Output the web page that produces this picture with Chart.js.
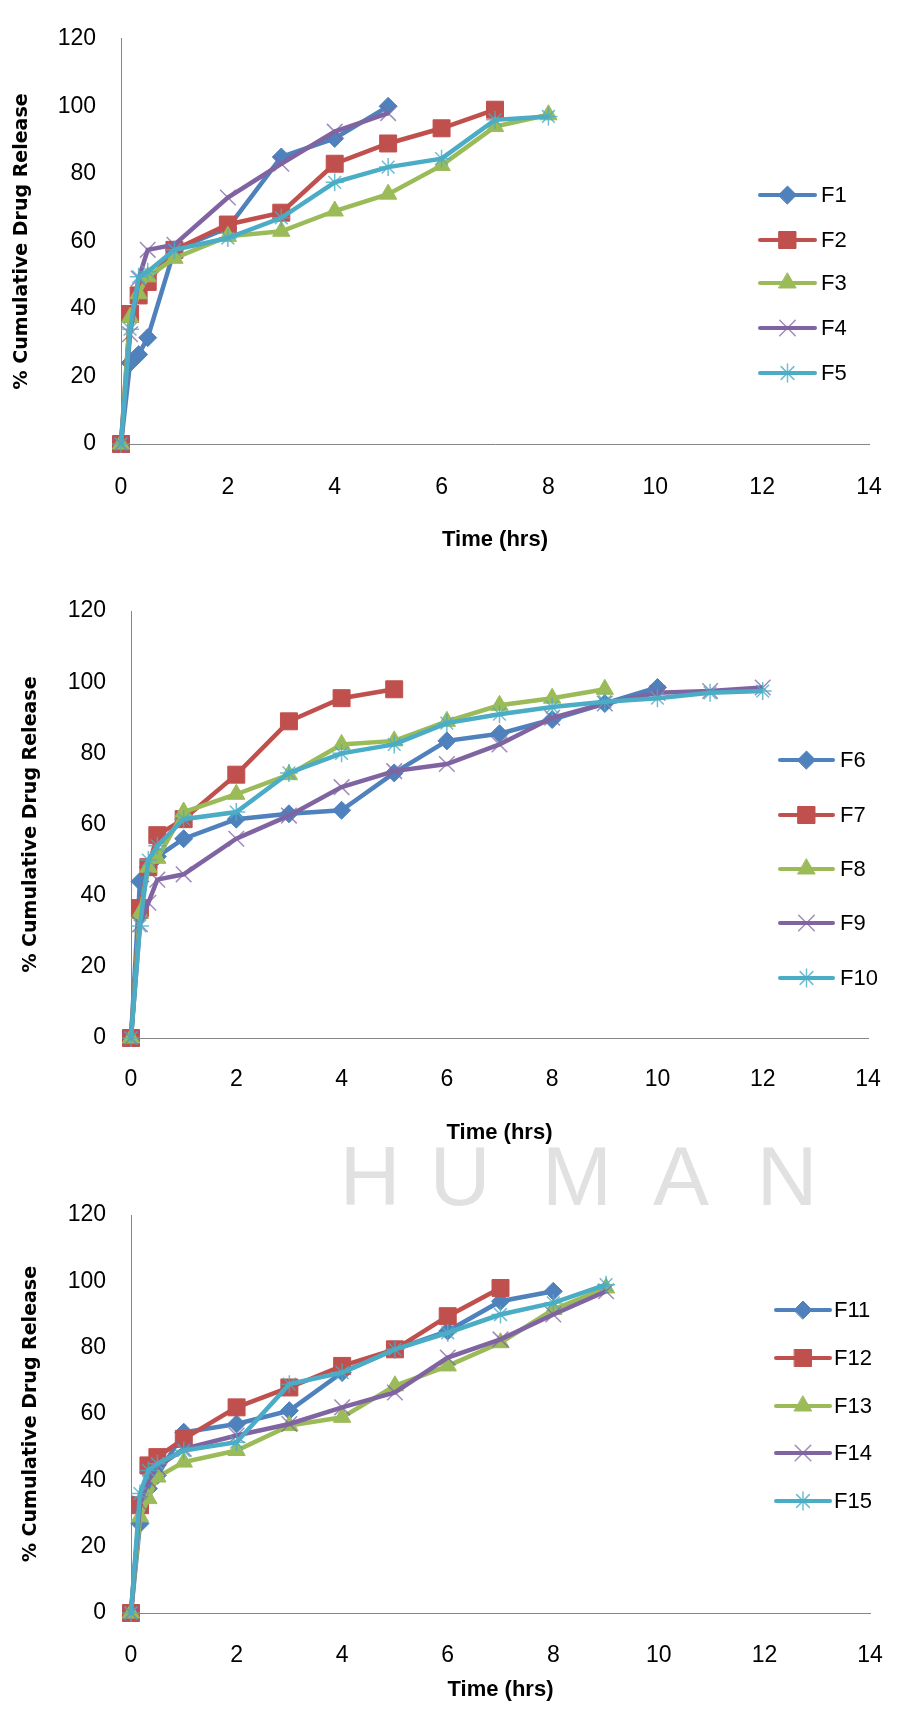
<!DOCTYPE html>
<html>
<head>
<meta charset="utf-8">
<script src="https://cdn.jsdelivr.net/npm/chart.js@4.4.1/dist/chart.umd.min.js"></script>
<style>
html,body{margin:0;padding:0;background:#fff;}
#wrap{position:relative;width:912px;height:1709px;overflow:hidden;background:#fff;}
canvas{position:absolute;left:0;top:0;}
</style>
</head>
<body>
<div id="wrap">
<canvas id="c1" width="912" height="1709"></canvas>
<canvas id="c2" width="912" height="1709"></canvas>
<canvas id="c3" width="912" height="1709"></canvas>
</div>
<script>
// ---------- DATA ----------
const timeHrs = [0, 0.17, 0.33, 0.5, 1, 2, 3, 4, 5, 6, 7, 8, 9, 10, 11, 12];
const xTickValues = [0, 2, 4, 6, 8, 10, 12, 14];
const yTickValues = [0, 20, 40, 60, 80, 100, 120];
const xTitle = 'Time (hrs)';
const yTitle = '% Cumulative Drug Release';
const watermarkText = 'HUMAN';

const labels1 = ['F1', 'F2', 'F3', 'F4', 'F5'];
const labels2 = ['F6', 'F7', 'F8', 'F9', 'F10'];
const labels3 = ['F11', 'F12', 'F13', 'F14', 'F15'];

const F1 = [0, 24, 26.5, 31.5, 57.5, 64, 85, 90.5, 100];
const F2 = [0, 38.5, 44, 48, 57.5, 65, 68.5, 83, 89, 93.5, 99];
const F3 = [0, 37.5, 44.5, 49.5, 55, 61.5, 63, 69, 74, 82.5, 94, 97.5];
const F4 = [0, 32.5, 49, 57.5, 59, 73, 83, 92.5, 98];
const F5 = [0, 34, 49.5, 51, 57.5, 61, 67, 77.5, 82, 84.5, 96, 97];

const F6 = [0, 44, 48, 51, 56, 61.5, 63, 64, 74.5, 83.5, 85.5, 89.5, 94, 98.5];
const F7 = [0, 36.5, 48, 57, 61.5, 74, 89, 95.5, 98];
const F8 = [0, 35, 48, 50.5, 63.5, 68.5, 74, 82.5, 83.5, 89, 93.5, 95.5, 98];
const F9 = [0, 32, 38, 44.5, 46, 56, 62.5, 70.5, 75, 77, 82.5, 90, 94, 97, 97.5, 98.5];
const F10 = [0, 31.5, 50, 54, 61.5, 63.5, 74.5, 80, 82.5, 88.5, 91, 93, 94.5, 95.5, 97, 97.5];

const F11 = [0, 27, 37.5, 41.5, 54.5, 57, 61, 72.5, 79.5, 85, 94, 97];
const F12 = [0, 32.5, 44.5, 47, 52.5, 62, 68, 74.5, 79.5, 89.5, 98];
const F13 = [0, 29, 34.5, 41, 45.5, 49, 56.5, 59, 68.5, 74.5, 81.5, 91.5, 98];
const F14 = [0, 33, 40, 44, 49.5, 53.5, 57, 62, 66.5, 77, 82.5, 90, 97];
const F15 = [0, 36, 43, 45, 49, 51.5, 69, 72.5, 79.5, 84.5, 90, 93.5, 99];

// ---------- STYLES / LAYOUT ----------
const seriesStyles = [
  {color: '#4F81BD', mark: '#4F81BD', style: 'rectRot', r: 9, bw: 1},
  {color: '#C0504D', mark: '#C0504D', style: 'rect', r: 12, bw: 1},
  {color: '#9BBB59', mark: '#9BBB59', style: 'triangle', r: 10, bw: 1},
  {color: '#8064A2', mark: 'rgba(128,100,162,0.75)', style: 'crossRot', r: 11, bw: 1.5},
  {color: '#4BACC6', mark: 'rgba(75,172,198,0.8)', style: 'star', r: 9, bw: 1.5}
];

const layouts = [
  {id: 'c1', series: [F1, F2, F3, F4, F5], labels: labels1, L: 121, R: 873, T: 19, B: 444,
   xLabelC: 488, xTitleC: 540, yTitleC: 22, yLabR: 96,
   lg: {x0: 760, x1: 815, xt: 821, ys: [195, 240, 283, 328, 373]}},
  {id: 'c2', series: [F6, F7, F8, F9, F10], labels: labels2, L: 131, R: 868, T: 611, B: 1038,
   xLabelC: 1080, xTitleC: 1133, yTitleC: 31, yLabR: 106,
   lg: {x0: 780, x1: 833, xt: 840, ys: [760, 815, 869, 923, 978]}},
  {id: 'c3', series: [F11, F12, F13, F14, F15], labels: labels3, L: 131, R: 897, T: 1215, B: 1613,
   xLabelC: 1656, xTitleC: 1690, yTitleC: 31, yLabR: 106,
   lg: {x0: 776, x1: 830, xt: 834, ys: [1310, 1358, 1406, 1453, 1501]},
   watermark: true}
];

const W_PAGE = 912, H_PAGE = 1709;
const tickFont = {family: 'Liberation Sans', size: 23, lineHeight: 1.2};
const xTitleFont = {family: 'Liberation Sans', size: 22, weight: 'bold', lineHeight: 1.2};
const yTitleFont = {family: 'DejaVu Sans', size: 19, weight: 'bold', lineHeight: 1.2};

function drawMarker(ctx, st, x, y) {
  if (Chart.helpers && Chart.helpers.drawPoint) {
    ctx.fillStyle = st.mark;
    ctx.strokeStyle = st.mark;
    ctx.lineWidth = st.bw;
    Chart.helpers.drawPoint(ctx, {pointStyle: st.style, radius: st.r, rotation: 0, borderWidth: st.bw}, x, y);
  }
}

const legendPlugin = {
  id: 'customLegend',
  afterDraw(chart, args, opts) {
    const lg = opts.lg;
    if (!lg) return;
    const ctx = chart.ctx;
    chart.data.datasets.forEach((ds, i) => {
      const st = seriesStyles[i];
      const y = lg.ys[i];
      ctx.save();
      ctx.strokeStyle = st.color;
      ctx.lineWidth = 4;
      ctx.lineCap = 'round';
      ctx.beginPath();
      ctx.moveTo(lg.x0, y);
      ctx.lineTo(lg.x1, y);
      ctx.stroke();
      drawMarker(ctx, st, (lg.x0 + lg.x1) / 2, y);
      ctx.fillStyle = '#000';
      ctx.font = '22px "Liberation Sans"';
      ctx.textBaseline = 'middle';
      ctx.textAlign = 'left';
      ctx.fillText(ds.label, lg.xt, y + 1);
      ctx.restore();
    });
  }
};

const watermarkPlugin = {
  id: 'watermark',
  beforeDatasetsDraw(chart, args, opts) {
    if (!opts.show) return;
    const ctx = chart.ctx;
    const letters = watermarkText.split('');
    const centers = [370, 460, 577, 681, 787];
    ctx.save();
    ctx.fillStyle = '#e1e1e1';
    ctx.font = '84px "Liberation Sans"';
    ctx.textAlign = 'center';
    ctx.textBaseline = 'alphabetic';
    letters.forEach((ch, i) => ctx.fillText(ch, centers[i], 1205));
    ctx.restore();
  }
};

layouts.forEach(lay => {
  const tickLH = tickFont.size * tickFont.lineHeight;
  const xtLH = xTitleFont.size * xTitleFont.lineHeight;
  const ytLH = yTitleFont.size * yTitleFont.lineHeight;
  const H = lay.xTitleC - lay.B + xtLH / 2;
  const padLeft = lay.yTitleC - ytLH / 2;
  const W = lay.L - padLeft;
  const xPad = lay.xLabelC - lay.B - tickLH / 2;
  const yPad = lay.L - lay.yLabR;

  const datasets = lay.series.map((vals, i) => {
    const st = seriesStyles[i];
    return {
      label: lay.labels[i],
      data: vals.map((v, k) => ({x: timeHrs[k], y: v})),
      borderColor: st.color,
      backgroundColor: st.color,
      borderWidth: 4.5,
      pointStyle: st.style,
      pointRadius: st.r,
      pointBackgroundColor: st.mark,
      pointBorderColor: st.mark,
      pointBorderWidth: st.bw,
      tension: 0,
      clip: false,
      order: 5 - i
    };
  });

  new Chart(document.getElementById(lay.id), {
    type: 'line',
    data: {datasets},
    plugins: [legendPlugin, watermarkPlugin],
    options: {
      responsive: false,
      animation: false,
      devicePixelRatio: 1,
      layout: {padding: {left: padLeft, right: W_PAGE - lay.R, top: lay.T, bottom: H_PAGE - lay.B - H}},
      plugins: {
        legend: {display: false},
        tooltip: {enabled: false},
        customLegend: {lg: lay.lg},
        watermark: {show: !!lay.watermark}
      },
      scales: {
        x: {
          type: 'linear', min: 0, max: 14,
          afterBuildTicks: s => { s.ticks = xTickValues.map(v => ({value: v})); },
          afterFit: s => { s.height = H; },
          grid: {display: false, drawTicks: false},
          border: {display: true, color: '#868686', width: 1},
          ticks: {padding: xPad, font: tickFont, color: '#000', maxRotation: 0, autoSkip: false},
          title: {display: true, text: xTitle, font: xTitleFont, color: '#000', padding: 0}
        },
        y: {
          type: 'linear', min: 0, max: 120,
          afterBuildTicks: s => { s.ticks = yTickValues.map(v => ({value: v})); },
          afterFit: s => { s.width = W; },
          grid: {display: false, drawTicks: false},
          border: {display: true, color: '#868686', width: 1},
          ticks: {padding: yPad, font: tickFont, color: '#000'},
          title: {display: true, text: yTitle, font: yTitleFont, color: '#000', padding: 0}
        }
      }
    }
  });
});
</script>
</body>
</html>
